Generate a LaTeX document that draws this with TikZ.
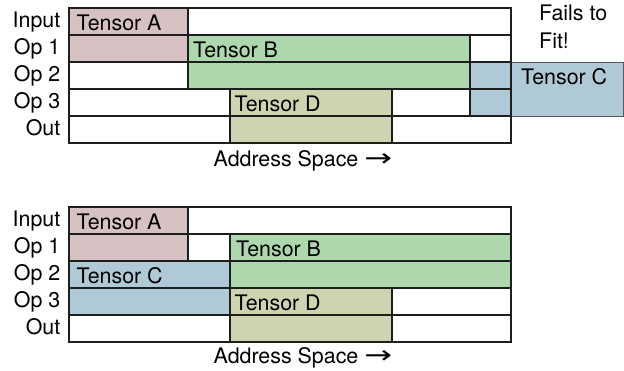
\documentclass[tikz,border=0pt]{standalone}
\usepackage{fontspec}
\setmainfont{TeX Gyre Heros}
\newfontfamily\arrowfont{DejaVu Sans}
\usepackage{graphicx}
\definecolor{tA}{HTML}{D6C1C3}
\definecolor{tB}{HTML}{ADD8AE}
\definecolor{tC}{HTML}{AFC9D7}
\definecolor{tD}{HTML}{D0D3AF}
\definecolor{gridc}{HTML}{1E1E1E}
\newcommand\fs{\fontsize{21.4}{25}\selectfont}
\begin{document}
\begin{tikzpicture}[x=1pt,y=-1pt,
  gridline/.style={draw=gridc, line width=1.4pt},
  lbl/.style={anchor=base east, inner sep=0pt, font=\fs},
  tname/.style={anchor=base west, inner sep=0pt, font=\fs}]
\useasboundingbox (0,0) rectangle (624,370);

% ---------- top diagram ----------
\fill[tA] (69,8) rectangle (188,62);
\fill[tB] (188,35) rectangle (470,89);
\filldraw[fill=tC, draw=black!65, line width=1pt] (511,62) rectangle (623,116);
\fill[tC] (470,62) rectangle (511,116);
\fill[tD] (230,89) rectangle (392,143);
\draw[gridline] (69,8) rectangle (511,143);
\foreach \y in {35,62,89,116} \draw[gridline] (69,\y) -- (511,\y);
\draw[gridline] (188,8) -- (188,89);
\draw[gridline] (470,35) -- (470,116);
\draw[gridline] (230,89) -- (230,143);
\draw[gridline] (392,89) -- (392,143);

\node[lbl] (t-in) at (60.5,27) {Input};
\node[lbl] (t-op1) at (60.5,54) {Op 1};
\node[lbl] (t-op2) at (60.5,81) {Op 2};
\node[lbl] (t-op3) at (60.5,108) {Op 3};
\node[lbl] (t-out) at (60.5,135) {Out};

\node[tname] (t-A) at (76.5,30.5) {Tensor A};
\node[tname] (t-B) at (193,57.5) {Tensor B};
\node[tname] (t-C) at (521,84.5) {Tensor C};
\node[tname] (t-D) at (234.5,111.5) {Tensor D};

\node[tname] (fail1) at (539,20.7) {Fails to};
\node[tname] (fail2) at (539,48.3) {Fit!};

\node[tname] (t-addr) at (213.5,166) {Address Space {\arrowfont\scalebox{1.55}[1.15]{→}}};

% ---------- bottom diagram ----------
\begin{scope}[shift={(0,199)}]
\fill[tA] (69,8) rectangle (188,62);
\fill[tB] (230,35) rectangle (511,89);
\fill[tC] (69,62) rectangle (230,116);
\fill[tD] (230,89) rectangle (392,143);
\draw[gridline] (69,8) rectangle (511,143);
\foreach \y in {35,62,89,116} \draw[gridline] (69,\y) -- (511,\y);
\draw[gridline] (188,8) -- (188,62);
\draw[gridline] (230,35) -- (230,143);
\draw[gridline] (392,89) -- (392,143);

\node[lbl] (b-in) at (60.5,27) {Input};
\node[lbl] (b-op1) at (60.5,54) {Op 1};
\node[lbl] (b-op2) at (60.5,81) {Op 2};
\node[lbl] (b-op3) at (60.5,108) {Op 3};
\node[lbl] (b-out) at (60.5,135) {Out};

\node[tname] (b-A) at (76.5,30.5) {Tensor A};
\node[tname] (b-B) at (236,57.5) {Tensor B};
\node[tname] (b-C) at (76.5,84.5) {Tensor C};
\node[tname] (b-D) at (234.5,111.5) {Tensor D};

\node[tname] (b-addr) at (213.5,164.5) {Address Space {\arrowfont\scalebox{1.55}[1.15]{→}}};
\end{scope}
\end{tikzpicture}
\end{document}
